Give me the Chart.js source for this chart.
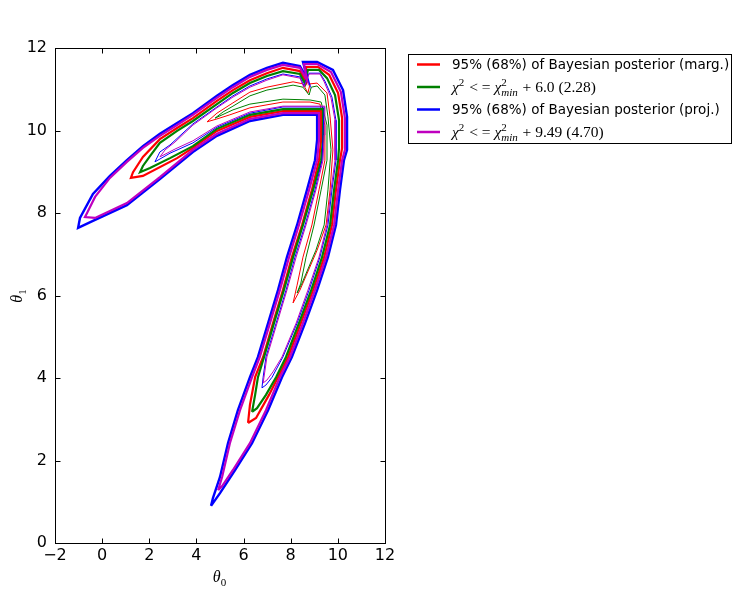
<!DOCTYPE html>
<html><head><meta charset="utf-8">
<script src="https://cdn.jsdelivr.net/npm/chart.js@4.4.0/dist/chart.umd.min.js"></script>
<style>html,body{margin:0;padding:0;background:#fff;overflow:hidden}canvas{display:block}</style>
</head><body>
<canvas id="c" width="733" height="616"></canvas>
<script>
// ---- axes ----
const xTicks = [-2, 0, 2, 4, 6, 8, 10, 12];
const yTicks = [0, 2, 4, 6, 8, 10, 12];

// ---- contour vertices [theta0, theta1] ----
// 95% region of the Bayesian posterior (marginalised) - red thick
const marg95 = [[6.19,2.91],[6.27,3.35],[6.49,4.02],[6.83,4.51],[7.25,5.33],[7.67,6.13],[8.05,6.93],[8.48,7.71],[8.90,8.56],[9.20,9.28],[9.29,9.77],[9.29,10.47],[7.67,10.47],[6.27,10.33],[4.87,9.99],[3.85,9.58],[3.18,9.33],[1.73,8.90],[1.22,8.85],[1.31,8.99],[1.73,9.36],[2.45,9.79],[3.18,10.06],[3.85,10.30],[4.87,10.72],[5.55,10.98],[6.27,11.22],[6.99,11.39],[7.67,11.52],[8.39,11.44],[8.65,11.18],[8.65,11.54],[9.16,11.54],[9.63,11.35],[10.01,10.91],[10.18,10.30],[10.18,9.58],[10.09,9.28],[9.92,8.56],[9.75,7.71],[9.42,6.93],[8.95,6.13],[8.43,5.33],[7.89,4.51],[7.46,4.02],[7.08,3.59],[6.53,3.03]];
// 68% marginalised - red thin
const marg68 = [[8.10,5.82],[8.27,6.25],[8.52,6.93],[8.90,7.71],[9.20,8.56],[9.45,9.28],[9.45,10.13],[9.24,10.64],[8.82,10.69],[7.67,10.69],[6.27,10.55],[5.42,10.38],[4.87,10.28],[4.45,10.21],[4.87,10.42],[5.55,10.67],[6.27,10.93],[6.99,11.05],[8.10,11.18],[8.52,11.13],[8.73,10.91],[8.82,11.13],[9.12,11.15],[9.54,10.91],[9.67,10.33],[9.79,9.53],[9.67,8.56],[9.50,7.71],[9.12,7.10],[8.39,6.13]];
// chi2 <= chi2min + 6.0 - green thick
const chi60 = [[6.36,3.18],[6.49,3.59],[6.61,4.02],[6.87,4.51],[7.29,5.33],[7.71,6.13],[8.10,6.93],[8.52,7.71],[8.95,8.56],[9.29,9.28],[9.37,9.77],[9.37,10.52],[7.67,10.52],[6.27,10.38],[4.87,10.04],[3.85,9.62],[2.88,9.33],[2.03,9.09],[1.61,8.99],[1.73,9.14],[2.03,9.38],[2.45,9.70],[3.18,9.99],[3.85,10.23],[4.87,10.64],[5.55,10.91],[6.27,11.15],[6.99,11.32],[7.67,11.44],[8.39,11.37],[8.61,11.13],[8.73,11.47],[9.20,11.47],[9.54,11.27],[9.88,10.86],[10.05,10.25],[10.05,9.58],[10.01,9.28],[9.84,8.56],[9.67,7.71],[9.33,6.93],[8.87,6.13],[8.35,5.33],[7.80,4.51],[7.38,4.02],[6.95,3.59],[6.57,3.27]];
// chi2 <= chi2min + 2.28 - green thin
const chi228 = [[8.27,6.06],[8.43,6.30],[8.65,6.93],[8.99,7.71],[9.29,8.56],[9.54,9.28],[9.54,10.13],[9.29,10.69],[8.82,10.74],[7.67,10.76],[6.27,10.64],[5.55,10.50],[4.79,10.30],[5.13,10.45],[5.55,10.59],[6.27,10.84],[6.99,10.98],[8.10,11.10],[8.52,11.05],[8.78,10.86],[8.87,11.05],[9.12,11.08],[9.45,10.86],[9.58,10.33],[9.71,9.53],[9.58,8.56],[9.42,7.71],[9.07,7.10],[8.48,6.30]];
// 95% Bayesian posterior (projected) - blue thick
const proj95 = [[4.62,0.90],[4.70,1.09],[5.00,1.60],[5.34,2.42],[5.76,3.22],[6.27,4.02],[6.61,4.51],[7.04,5.33],[7.46,6.13],[7.84,6.93],[8.27,7.71],[8.69,8.56],[9.03,9.28],[9.12,9.77],[9.12,10.38],[7.67,10.38],[6.27,10.23],[4.87,9.87],[3.85,9.48],[2.45,8.82],[1.05,8.19],[-0.39,7.81],[-1.02,7.64],[-0.94,7.88],[-0.39,8.46],[0.33,8.90],[1.05,9.28],[1.73,9.62],[2.45,9.92],[3.18,10.18],[3.85,10.42],[4.87,10.84],[5.55,11.10],[6.27,11.35],[6.99,11.52],[7.67,11.64],[8.39,11.56],[8.73,11.22],[8.52,11.66],[9.12,11.66],[9.79,11.47],[10.22,10.98],[10.39,10.33],[10.39,9.53],[10.26,9.28],[10.09,8.56],[9.92,7.71],[9.58,6.93],[9.12,6.13],[8.61,5.33],[8.05,4.51],[7.63,4.02],[7.04,3.22],[6.36,2.42],[5.64,1.77],[5.00,1.21]];
// 68% projected - blue thin
const proj68 = [[6.78,3.76],[6.83,4.02],[6.95,4.51],[7.38,5.33],[7.80,6.13],[8.18,6.93],[8.61,7.71],[9.03,8.56],[9.33,9.28],[9.37,9.89],[9.42,10.57],[7.67,10.57],[6.27,10.42],[4.87,10.08],[3.85,9.70],[2.88,9.45],[2.24,9.24],[2.45,9.48],[2.88,9.65],[3.85,10.16],[4.87,10.57],[5.55,10.84],[6.27,11.08],[6.99,11.25],[7.67,11.37],[8.39,11.30],[8.56,11.08],[8.78,11.39],[9.24,11.39],[9.45,11.20],[9.75,10.81],[9.92,10.25],[9.92,9.58],[9.92,9.28],[9.75,8.56],[9.58,7.71],[9.24,6.93],[8.78,6.13],[8.27,5.33],[7.67,4.51],[7.21,4.02],[6.95,3.83]];
// chi2 <= chi2min + 9.49 - magenta thick
const chi949 = [[4.92,1.28],[5.09,1.60],[5.42,2.42],[5.85,3.22],[6.36,4.02],[6.69,4.51],[7.12,5.33],[7.54,6.13],[7.93,6.93],[8.35,7.71],[8.78,8.56],[9.12,9.28],[9.20,9.77],[9.20,10.42],[7.67,10.42],[6.27,10.28],[4.87,9.92],[3.85,9.53],[2.45,8.87],[1.05,8.24],[-0.30,7.88],[-0.73,7.90],[-0.64,8.00],[-0.30,8.39],[0.33,8.85],[1.05,9.24],[1.73,9.58],[2.45,9.87],[3.18,10.13],[3.85,10.38],[4.87,10.79],[5.55,11.05],[6.27,11.30],[6.99,11.47],[7.67,11.59],[8.39,11.52],[8.69,11.22],[8.56,11.61],[9.12,11.61],[9.71,11.42],[10.13,10.93],[10.30,10.30],[10.30,9.53],[10.18,9.28],[10.01,8.56],[9.84,7.71],[9.50,6.93],[9.03,6.13],[8.52,5.33],[7.97,4.51],[7.54,4.02],[6.95,3.22],[6.27,2.42],[5.55,1.77],[5.09,1.38]];
// chi2 <= chi2min + 4.70 - magenta thin
const chi470 = [[6.83,3.88],[6.91,4.19],[6.99,4.51],[7.42,5.33],[7.84,6.13],[8.23,6.93],[8.65,7.71],[9.07,8.56],[9.37,9.28],[9.42,9.89],[9.45,10.59],[7.67,10.59],[6.27,10.45],[4.87,10.11],[3.85,9.75],[3.09,9.55],[2.45,9.36],[2.67,9.53],[3.09,9.72],[3.85,10.13],[4.87,10.55],[5.55,10.81],[6.27,11.05],[6.99,11.22],[7.67,11.35],[8.39,11.27],[8.56,11.05],[8.78,11.37],[9.24,11.37],[9.42,11.18],[9.71,10.79],[9.88,10.25],[9.88,9.58],[9.88,9.28],[9.71,8.56],[9.54,7.71],[9.20,6.93],[8.73,6.13],[8.23,5.33],[7.63,4.51],[7.25,4.15],[6.99,3.95]];

// ---- legend ----
const legendColors = ['#ff0000', '#008000', '#0000ff', '#bf00bf'];
const legendEntries = [
  [{t:'95% (68%) of Bayesian posterior (marg.)', f:'text'}],
  [{t:'\u03c7', f:'i'}, {t:'2', f:'sup'}, {t:' < = ', f:'m'}, {t:'\u03c7', f:'i'}, {t:'2', f:'sup', sub:'min'}, {t:' + 6.0 (2.28)', f:'m'}],
  [{t:'95% (68%) of Bayesian posterior (proj.)', f:'text'}],
  [{t:'\u03c7', f:'i'}, {t:'2', f:'sup'}, {t:' < = ', f:'m'}, {t:'\u03c7', f:'i'}, {t:'2', f:'sup', sub:'min'}, {t:' + 9.49 (4.70)', f:'m'}]
];
const xLabel = [{t:'\u03b8', f:'i'}, {t:'0', f:'sub'}];
const yLabel = [{t:'\u03b8', f:'i'}, {t:'1', f:'sub'}];

const SERIF = '"Liberation Serif","DejaVu Serif",serif';
const SANS = '"DejaVu Sans",sans-serif';
function fontFor(f, size){
  if (f === 'text') return size + 'px ' + SANS;
  if (f === 'i') return 'italic ' + size + 'px ' + SERIF;
  if (f === 'sup' || f === 'sub') return Math.round(size*0.7) + 'px ' + SERIF;
  return size + 'px ' + SERIF;
}
function richWidth(ctx, segs, size){
  let w = 0;
  for (const s of segs){
    ctx.font = fontFor(s.f, size);
    let sw = ctx.measureText(s.t).width;
    if (s.sub){ ctx.font = 'italic ' + Math.round(size*0.7) + 'px ' + SERIF; sw = Math.max(sw, ctx.measureText(s.sub).width); }
    w += sw + ((s.f==='sup'||s.f==='sub') ? 1 : 0);
  }
  return w;
}
function drawRich(ctx, segs, x, y, size){
  ctx.textBaseline = 'alphabetic'; ctx.textAlign = 'left'; ctx.fillStyle = '#000';
  for (const s of segs){
    ctx.font = fontFor(s.f, size);
    let dy = 0;
    if (s.f === 'sup') dy = -size*0.38;
    if (s.f === 'sub') dy = size*0.22;
    ctx.fillText(s.t, x, y + dy);
    let sw = ctx.measureText(s.t).width;
    if (s.sub){
      ctx.font = 'italic ' + Math.round(size*0.7) + 'px ' + SERIF;
      ctx.fillText(s.sub, x, y + size*0.25);
      sw = Math.max(sw, ctx.measureText(s.sub).width);
    }
    x += sw + ((s.f==='sup'||s.f==='sub') ? 1 : 0);
  }
}

const decor = {
  id: 'decor',
  afterDraw(chart){
    const ctx = chart.ctx, a = chart.chartArea, xs = chart.scales.x, ys = chart.scales.y;
    ctx.save();
    ctx.strokeStyle = '#000'; ctx.lineWidth = 1;
    const L = Math.round(a.left)+0.5, R = Math.round(a.right)+0.5, T = Math.round(a.top)+0.5, B = Math.round(a.bottom)+0.5;
    ctx.strokeRect(L, T, R-L, B-T);
    ctx.beginPath();
    for (const v of xTicks){
      const px = Math.round(xs.getPixelForValue(v))+0.5;
      ctx.moveTo(px, B); ctx.lineTo(px, B-5);
      ctx.moveTo(px, T); ctx.lineTo(px, T+5);
    }
    for (const v of yTicks){
      const py = Math.round(ys.getPixelForValue(v))+0.5;
      ctx.moveTo(L, py); ctx.lineTo(L+5, py);
      ctx.moveTo(R, py); ctx.lineTo(R-5, py);
    }
    ctx.stroke();
    // axis labels
    const s = 16;
    const xw = richWidth(ctx, xLabel, s);
    drawRich(ctx, xLabel, (a.left+a.right)/2 - xw/2, 582, s);
    ctx.save();
    ctx.translate(22, (a.top+a.bottom)/2);
    ctx.rotate(-Math.PI/2);
    const yw = richWidth(ctx, yLabel, s);
    drawRich(ctx, yLabel, -yw/2, 0, s);
    ctx.restore();
    // legend
    ctx.fillStyle = '#fff'; ctx.strokeStyle = '#000'; ctx.lineWidth = 1;
    ctx.fillRect(408.5, 54.5, 323, 89);
    ctx.strokeRect(408.5, 54.5, 323, 89);
    const rows = [64.5, 87, 109.5, 132];
    legendEntries.forEach((segs, i) => {
      ctx.strokeStyle = legendColors[i]; ctx.lineWidth = 2.5;
      ctx.beginPath(); ctx.moveTo(417, rows[i]); ctx.lineTo(440, rows[i]); ctx.stroke();
      if (segs[0].f === 'text'){
        ctx.font = fontFor('text', 13.5); ctx.fillStyle = '#000';
        ctx.textBaseline = 'middle'; ctx.textAlign = 'left';
        ctx.fillText(segs[0].t, 452, rows[i]+0.5);
      } else {
        drawRich(ctx, segs, 452, rows[i]+5, 15.5);
      }
    });
    ctx.restore();
  }
};

function toXY(arr){ return arr.concat([arr[0]]).map(p => ({x: p[0], y: p[1]})); }
function ds(arr, color, w, order){
  return {data: toXY(arr), borderColor: color, backgroundColor: color, borderWidth: w,
    showLine: true, fill: false, pointRadius: 0, pointHoverRadius: 0, tension: 0, order: order,
    borderJoinStyle: 'miter'};
}

new Chart(document.getElementById('c'), {
  type: 'scatter',
  data: {datasets: [
    ds(marg95, '#ff0000', 2.2, 8), ds(marg68, '#ff0000', 1, 7),
    ds(chi60, '#008000', 2.2, 6), ds(chi228, '#008000', 1, 5),
    ds(proj95, '#0000ff', 2.4, 4), ds(proj68, '#0000ff', 1, 3),
    ds(chi949, '#bf00bf', 2.2, 2), ds(chi470, '#bf00bf', 1, 1)
  ]},
  options: {
    responsive: false, animation: false, events: [],
    layout: {padding: {left: 0, right: 348, top: 48, bottom: 0}},
    plugins: {legend: {display: false}, tooltip: {enabled: false}},
    scales: {
      x: {type: 'linear', min: -2, max: 12,
        afterBuildTicks: s => { s.ticks = xTicks.map(v => ({value: v})); },
        afterFit: s => { s.height = 73; },
        grid: {display: false, drawTicks: false}, border: {display: false},
        ticks: {color: '#000', padding: 3, maxRotation: 0, font: {family: 'DejaVu Sans', size: 16},
          callback: v => String(v).replace('-', '\u2212')}},
      y: {type: 'linear', min: 0, max: 12,
        afterBuildTicks: s => { s.ticks = yTicks.map(v => ({value: v})); },
        afterFit: s => { s.width = 55; },
        grid: {display: false, drawTicks: false}, border: {display: false},
        ticks: {color: '#000', padding: 8, font: {family: 'DejaVu Sans', size: 16},
          callback: v => String(v)}}
    }
  },
  plugins: [decor]
});
</script>
</body></html>
